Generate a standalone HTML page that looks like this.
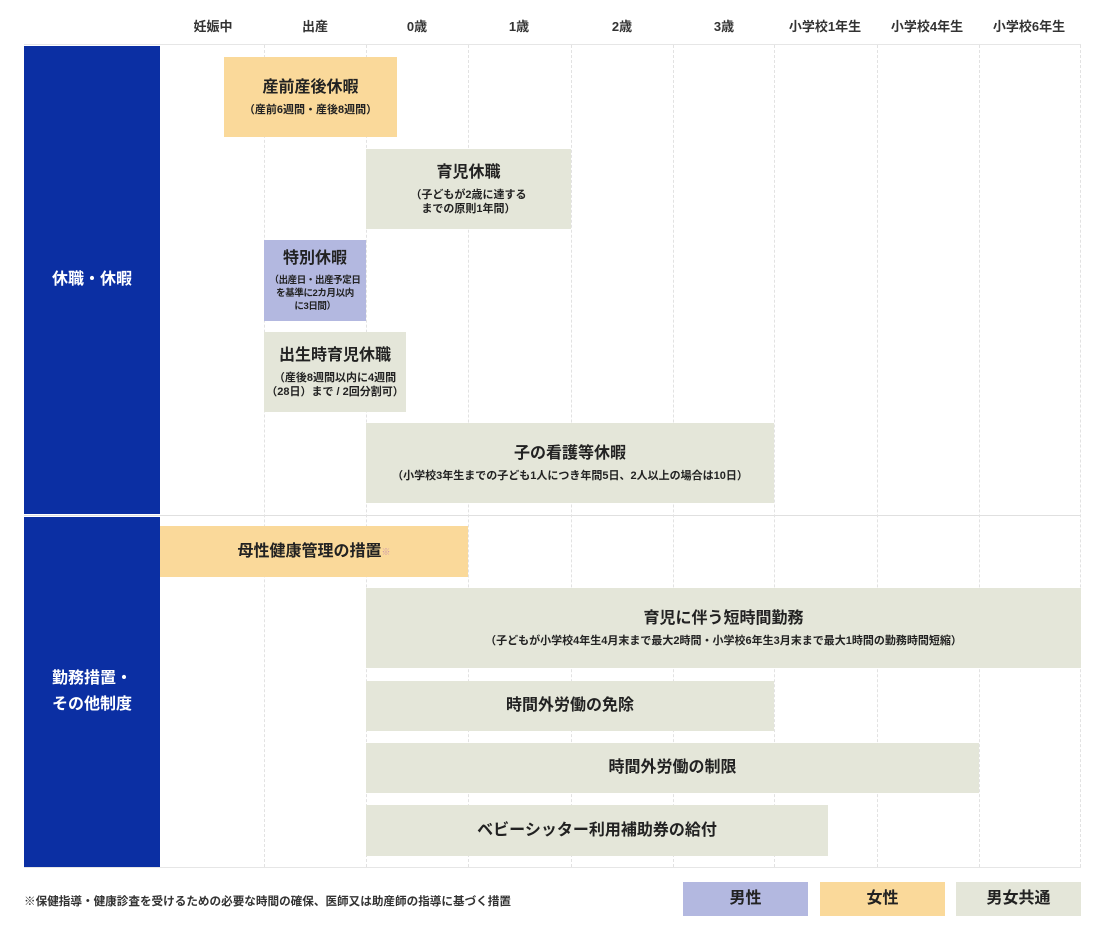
<!DOCTYPE html>
<html><head><meta charset="utf-8"><style>
body{margin:0;width:1110px;height:937px;background:#fff;position:relative;overflow:hidden;font-family:"Liberation Sans","Noto Sans CJK JP",sans-serif;color:#222}
.a{position:absolute;box-sizing:border-box}
.h{top:16px;font-size:13px;font-weight:bold;text-align:center;width:102px;color:#333}
.v{top:45px;height:822px;width:0;border-left:1px dashed #e2e2e2}
.b{display:flex;flex-direction:column;align-items:center;justify-content:center;text-align:center;font-weight:bold}
.t{font-size:16px;line-height:22px}
.s{font-size:11px;line-height:14px;margin-top:4px}
.o{background:#fad99a}.g{background:#e4e6d9}.p{background:#b3b8e0}
.bl{background:#0b2fa3;color:#fff;font-size:16px;font-weight:bold;display:flex;align-items:center;justify-content:center;text-align:center;line-height:26px}
</style></head><body>
<div class="a h" style="left:162px">妊娠中</div>
<div class="a h" style="left:264px">出産</div>
<div class="a h" style="left:366px">0歳</div>
<div class="a h" style="left:468px">1歳</div>
<div class="a h" style="left:571px">2歳</div>
<div class="a h" style="left:673px">3歳</div>
<div class="a h" style="left:769px;width:112px">小学校1年生</div>
<div class="a h" style="left:871px;width:112px">小学校4年生</div>
<div class="a h" style="left:973px;width:112px">小学校6年生</div>
<div class="a" style="left:24px;top:44px;width:1057px;height:1px;background:#e6e6e6"></div>
<div class="a" style="left:24px;top:515px;width:1057px;height:1px;background:#e0e0e0"></div>
<div class="a" style="left:24px;top:867px;width:1057px;height:1px;background:#e6e6e6"></div>
<div class="a v" style="left:264px"></div><div class="a v" style="left:366px"></div><div class="a v" style="left:468px"></div><div class="a v" style="left:571px"></div><div class="a v" style="left:673px"></div><div class="a v" style="left:774px"></div><div class="a v" style="left:877px"></div><div class="a v" style="left:979px"></div><div class="a v" style="left:1080px"></div>
<div class="a bl" style="left:24px;top:46px;width:136px;height:468px">休職・休暇</div>
<div class="a bl" style="left:24px;top:517px;width:136px;height:350px">勤務措置・<br>その他制度</div>
<div class="a b o" style="left:224px;top:57px;width:173px;height:80px"><div class="t">産前産後休暇</div><div class="s">（産前6週間・産後8週間）</div></div>
<div class="a b g" style="left:366px;top:149px;width:205px;height:80px"><div class="t">育児休職</div><div class="s">（子どもが2歳に達する<br>までの原則1年間）</div></div>
<div class="a b p" style="left:264px;top:240px;width:102px;height:81px"><div class="t">特別休暇</div><div class="s" style="font-size:9.5px;line-height:13px;letter-spacing:-0.4px;white-space:nowrap">（出産日・出産予定日<br>を基準に2カ月以内<br>に3日間）</div></div>
<div class="a b g" style="left:264px;top:332px;width:142px;height:80px"><div class="t">出生時育児休職</div><div class="s">（産後8週間以内に4週間<br>（28日）まで / 2回分割可）</div></div>
<div class="a b g" style="left:366px;top:423px;width:408px;height:80px"><div class="t">子の看護等休暇</div><div class="s">（小学校3年生までの子ども1人につき年間5日、2人以上の場合は10日）</div></div>
<div class="a b o" style="left:160px;top:526px;width:308px;height:51px"><div class="t">母性健康管理の措置<span style="font-size:9px;vertical-align:top;color:#c9a">※</span></div></div>
<div class="a b g" style="left:366px;top:588px;width:715px;height:80px"><div class="t">育児に伴う短時間勤務</div><div class="s">（子どもが小学校4年生4月末まで最大2時間・小学校6年生3月末まで最大1時間の勤務時間短縮）</div></div>
<div class="a b g" style="left:366px;top:681px;width:408px;height:50px"><div class="t">時間外労働の免除</div></div>
<div class="a b g" style="left:366px;top:743px;width:613px;height:50px"><div class="t">時間外労働の制限</div></div>
<div class="a b g" style="left:366px;top:805px;width:462px;height:51px"><div class="t">ベビーシッター利用補助券の給付</div></div>
<div class="a" style="left:24px;top:893px;font-size:11.6px;font-weight:bold;color:#333">※保健指導・健康診査を受けるための必要な時間の確保、医師又は助産師の指導に基づく措置</div>
<div class="a b p" style="left:683px;top:882px;width:125px;height:34px"><div class="t">男性</div></div>
<div class="a b o" style="left:820px;top:882px;width:125px;height:34px"><div class="t">女性</div></div>
<div class="a b g" style="left:956px;top:882px;width:125px;height:34px"><div class="t">男女共通</div></div>
</body></html>
